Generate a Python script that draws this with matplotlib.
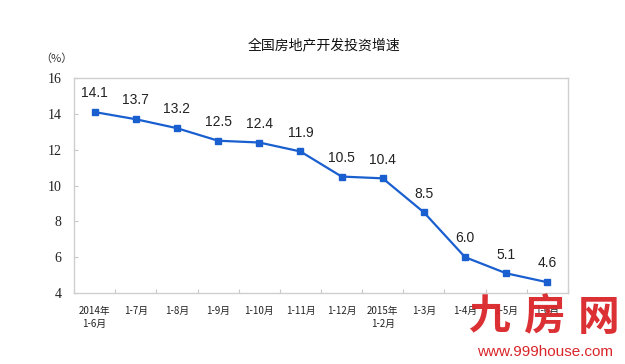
import numpy as np
import matplotlib
matplotlib.use("Agg")
import matplotlib.pyplot as plt

plt.rcParams['font.family'] = ['Noto Sans CJK SC', 'DejaVu Sans']

categories = ["2014年\n1-6月", "1-7月", "1-8月", "1-9月", "1-10月", "1-11月",
              "1-12月", "2015年\n1-2月", "1-3月", "1-4月", "1-5月", "1-6月"]
growth = [14.1, 13.7, 13.2, 12.5, 12.4, 11.9, 10.5, 10.4, 8.5, 6.0, 5.1, 4.6]
yticks = [4, 6, 8, 10, 12, 14, 16]

fig = plt.figure(figsize=(6.25, 3.64), dpi=100)
ax = fig.add_axes([0.1184, 0.195, 0.7904, 0.5907])

x = np.arange(len(growth))
ax.plot(x, growth, color="#1a5fcf", lw=1.6, marker="s", ms=4.5,
        markerfacecolor="#1a5fcf", markeredgecolor="#1a5fcf")

for xi, v in zip(x, growth):
    ax.annotate("%.1f" % v, (xi, v), xytext=(0, 8.5), textcoords="offset points",
                ha="center", va="bottom", fontsize=10, family="Liberation Sans",
                color="#222222")

ax.set_xlim(-0.5, len(growth) - 0.5)
ax.set_ylim(4, 16)
ax.set_yticks(yticks)
ax.set_yticklabels([str(t) for t in yticks], family="Liberation Serif",
                   fontsize=10, color="#222222")
ax.tick_params(axis="y", direction="in", length=3, color="#c8c8c8", pad=9)

# x ticks sit between categories, labels at category centres
ax.set_xticks(np.arange(len(growth) + 1) - 0.5)
ax.set_xticklabels([])
ax.set_xticks(x, minor=True)
ax.set_xticklabels(categories, minor=True, fontsize=7, color="#222222",
                   linespacing=1.4, va="top")
ax.tick_params(axis="x", which="major", direction="in", length=3, color="#c8c8c8")
ax.tick_params(axis="x", which="minor", length=0, pad=9)

for s in ax.spines.values():
    s.set_color("#cfcfcf")
    s.set_linewidth(1.0)

fig.text(0.518, 0.876, "全国房地产开发投资增速", ha="center", va="center",
         fontsize=10, color="#111111")
fig.text(0.09, 0.84, "（%）", ha="center", va="center", fontsize=8,
         color="#333333")

# watermark, one char at a time so it spreads as wide as the logo
for cx, ch in zip([0.783, 0.872, 0.958], "九房网"):
    fig.text(cx, 0.127, ch, ha="center", va="center", fontsize=30,
             fontweight="bold", color="#d9262a", alpha=0.95)
fig.text(0.872, 0.033, "www.999house.com", ha="center", va="center",
         fontsize=11, family="Liberation Sans", color="#d9262a")

fig.savefig("out.png", dpi=100)
